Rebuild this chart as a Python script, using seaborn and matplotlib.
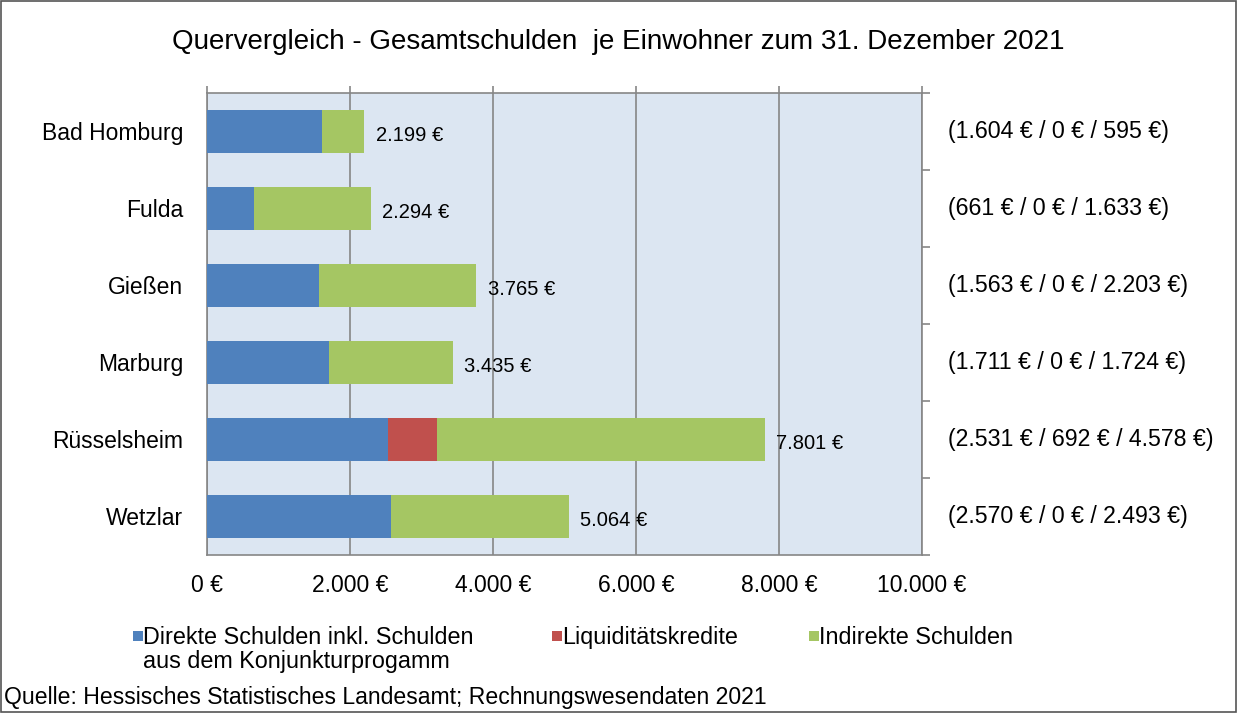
import numpy as np
import pandas as pd
import seaborn as sns
import matplotlib.pyplot as plt
from matplotlib.patches import Rectangle
from matplotlib.ticker import FuncFormatter

cities = ['Bad Homburg', 'Fulda', 'Gießen', 'Marburg', 'Rüsselsheim', 'Wetzlar']
direkt = [1604, 661, 1563, 1711, 2531, 2570]
liquid = [0, 0, 0, 0, 692, 0]
indirekt = [595, 1633, 2203, 1724, 4578, 2493]
totals = [2199, 2294, 3765, 3435, 7801, 5064]
legend_labels = ['Direkte Schulden inkl. Schulden\naus dem Konjunkturprogamm',
                 'Liquiditätskredite', 'Indirekte Schulden']

blue = '#4f81bd'
red = '#c0504d'
green = '#a5c663'
grid_col = '#868686'

df = pd.DataFrame({'city': cities, 'direkt': direkt, 'liquid': liquid, 'indirekt': indirekt})
df['dl'] = df['direkt'] + df['liquid']
df['all'] = df['dl'] + df['indirekt']

sns.set_theme(style='white', rc={'text.color': 'black', 'xtick.color': 'black',
                                 'ytick.color': 'black', 'axes.labelcolor': 'black'})
plt.rcParams['font.family'] = ['Liberation Sans', 'DejaVu Sans']

fig = plt.figure(figsize=(12.37, 7.13), dpi=100)
ax = fig.add_axes([0.1673, 0.2216, 0.578, 0.6480])
ax.set_facecolor('#dce6f2')

for col, c in [('all', green), ('dl', red), ('direkt', blue)]:
    sns.barplot(data=df, x=col, y='city', color=c, width=0.55, saturation=1,
                linewidth=0, ax=ax, zorder=3)

ax.set_xlim(0, 10000)
ax.set_ylim(5.5, -0.5)
ax.set_xticks([0, 2000, 4000, 6000, 8000, 10000])
ax.xaxis.set_major_formatter(FuncFormatter(lambda v, p: f'{int(v):,} €'.replace(',', '.')))
ax.grid(axis='x', color=grid_col, linewidth=1.2, zorder=1)
ax.set_axisbelow(True)
ax.set_xlabel('')
ax.set_ylabel('')

for s in ax.spines.values():
    s.set_color(grid_col)
    s.set_linewidth(1.2)

ax.tick_params(axis='x', bottom=False, top=True, labelbottom=True, labeltop=False,
               direction='out', length=5, width=1.2, color=grid_col, labelsize=16.5, pad=9)
ax.tick_params(axis='y', left=False, right=False, labelsize=16.5, pad=11)
ax.set_yticks(np.arange(-0.5, 6.0, 1.0), minor=True)
ax.tick_params(axis='y', which='minor', left=False, right=True, direction='out',
               length=6, color=grid_col, width=1.2)

for i, t in enumerate(totals):
    ax.text(t + 160, i + 0.05, f'{t:,} €'.replace(',', '.'), va='center', ha='left',
            fontsize=14.5, zorder=4)

for i in range(len(cities)):
    s = f'({direkt[i]:,} € / {liquid[i]:,} € / {indirekt[i]:,} €)'.replace(',', '.')
    ax.text(1.036, i, s, transform=ax.get_yaxis_transform(), va='center', ha='left',
            fontsize=16.7)

fig.text(0.5, 0.941, 'Quervergleich - Gesamtschulden  je Einwohner zum 31. Dezember 2021',
         ha='center', va='center', fontsize=20)

# legend, built by hand so the marker sits at the first text line
W, H = 1237, 713
for (mx, lab, c) in zip([133, 552, 809], legend_labels, [blue, red, green]):
    fig.add_artist(Rectangle((mx / W, 1 - 641 / H), 10 / W, 10 / H, transform=fig.transFigure,
                             facecolor=c, edgecolor='none'))
    fig.text((mx + 10) / W, 1 - 626 / H, lab, ha='left', va='top', fontsize=16.8,
             linespacing=1.05)

fig.text(0.003, 0.0224, 'Quelle: Hessisches Statistisches Landesamt; Rechnungswesendaten 2021',
         ha='left', va='center', fontsize=16.6)

fig.add_artist(Rectangle((0.001, 0.001), 0.998, 0.998, transform=fig.transFigure,
                         fill=False, edgecolor='#555555', linewidth=1.2))

fig.savefig('out.png', dpi=100)
